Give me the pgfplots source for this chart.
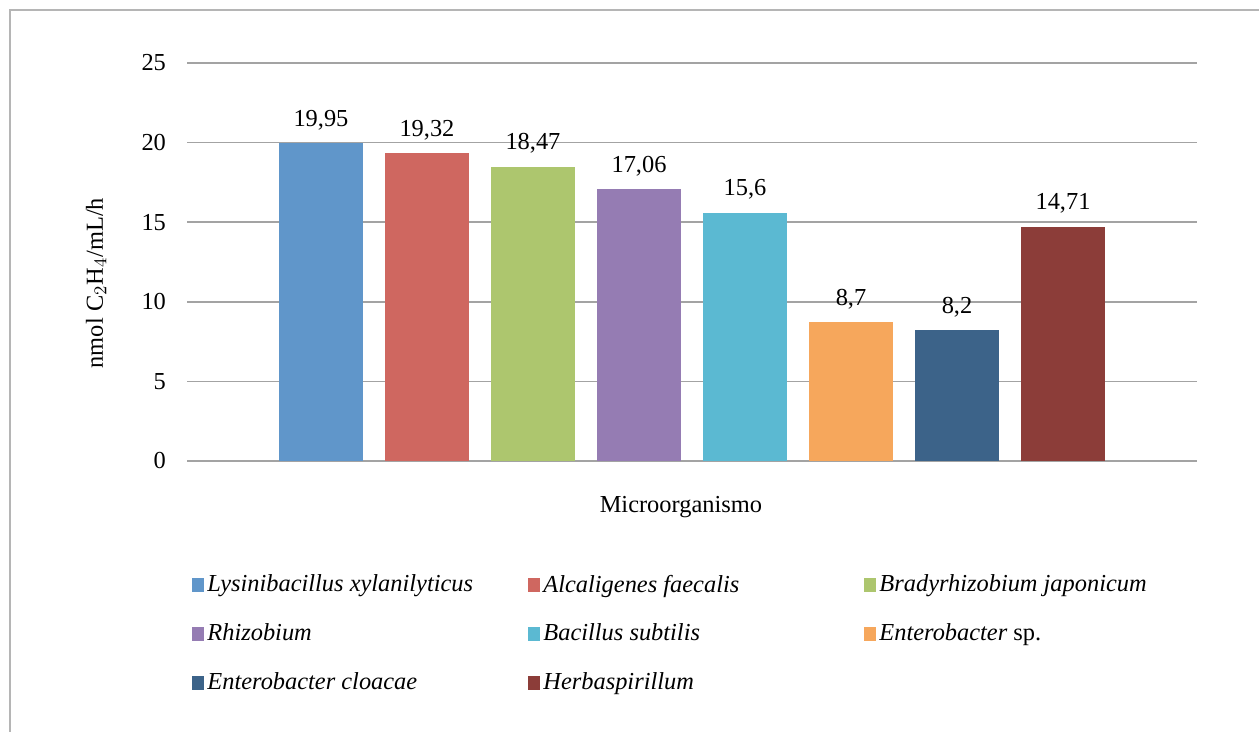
\documentclass[border=0pt]{standalone}
\usepackage{fontspec}
\setmainfont{Liberation Serif}
\usepackage{pgfplots}
\pgfplotsset{compat=1.18}
\definecolor{c1}{HTML}{6096CA}
\definecolor{c2}{HTML}{CF6760}
\definecolor{c3}{HTML}{ADC66E}
\definecolor{c4}{HTML}{957CB3}
\definecolor{c5}{HTML}{5BB9D2}
\definecolor{c6}{HTML}{F6A75C}
\definecolor{c7}{HTML}{3C6389}
\definecolor{c8}{HTML}{8C3D39}
\definecolor{gridc}{HTML}{A3A3A3}
\newcommand{\legbox}[1]{\makebox[159pt][l]{#1}}
\begin{document}
\begin{tikzpicture}
\path[use as bounding box] (0pt,0pt) rectangle (629.5pt,366pt);
\draw[color=gridc!80, line width=0.8pt] (5pt,0pt) -- (5pt,361pt) -- (629.5pt,361pt);
\begin{axis}[
  at={(93.5pt,135.5pt)}, anchor=south west,
  scale only axis, width=505pt, height=199pt,
  ybar, bar shift=0pt, bar width=0.79,
  xmin=-1.264, xmax=8.264, ymin=0, ymax=25,
  ytick={0,5,...,25}, xtick=\empty,
  axis line style={draw=none},
  ymajorgrids, grid style={gridc, line width=0.8pt},
  major tick length=0pt,
  font=\fontsize{12.2pt}{14pt}\selectfont,
  /pgf/number format/assume math mode=true,
  yticklabel style={xshift=-7pt},
  ylabel={nmol C$_2$H$_4$/mL/h},
  ylabel style={at={(axis description cs:-0.09,0.447)}, anchor=center, rotate=0},
  xlabel={Microorganismo},
  xlabel style={at={(axis description cs:0.489,-0.116)}, anchor=center},
  nodes near coords,
  every node near coord/.append style={anchor=base, inner sep=0pt, yshift=8.5pt,
     /pgf/number format/use comma, /pgf/number format/assume math mode=true},
  legend columns=3,
  legend image code/.code={\fill[#1,draw=none] (0pt,-3.5pt) rectangle (6pt,3.5pt);},
  legend style={at={(axis description cs:0.005,-0.285)}, anchor=north west,
     draw=none, fill=none, inner sep=0pt, row sep=14.5pt, column sep=0pt,
     font=\fontsize{12.2pt}{14pt}\selectfont,
     nodes={inner xsep=1.5pt, inner ysep=0pt}},
]
\addplot[fill=c1, draw=none] coordinates {(0,19.95)};
\addlegendentry{\legbox{\textit{Lysinibacillus xylanilyticus}}}
\addplot[fill=c2, draw=none] coordinates {(1,19.32)};
\addlegendentry{\legbox{\textit{Alcaligenes faecalis}}}
\addplot[fill=c3, draw=none] coordinates {(2,18.47)};
\addlegendentry{\legbox{\textit{Bradyrhizobium japonicum}}}
\addplot[fill=c4, draw=none] coordinates {(3,17.06)};
\addlegendentry{\legbox{\textit{Rhizobium}}}
\addplot[fill=c5, draw=none] coordinates {(4,15.6)};
\addlegendentry{\legbox{\textit{Bacillus subtilis}}}
\addplot[fill=c6, draw=none] coordinates {(5,8.7)};
\addlegendentry{\legbox{\textit{Enterobacter} sp.}}
\addplot[fill=c7, draw=none] coordinates {(6,8.2)};
\addlegendentry{\legbox{\textit{Enterobacter cloacae}}}
\addplot[fill=c8, draw=none] coordinates {(7,14.71)};
\addlegendentry{\legbox{\textit{Herbaspirillum}}}
\end{axis}
\end{tikzpicture}
\end{document}
